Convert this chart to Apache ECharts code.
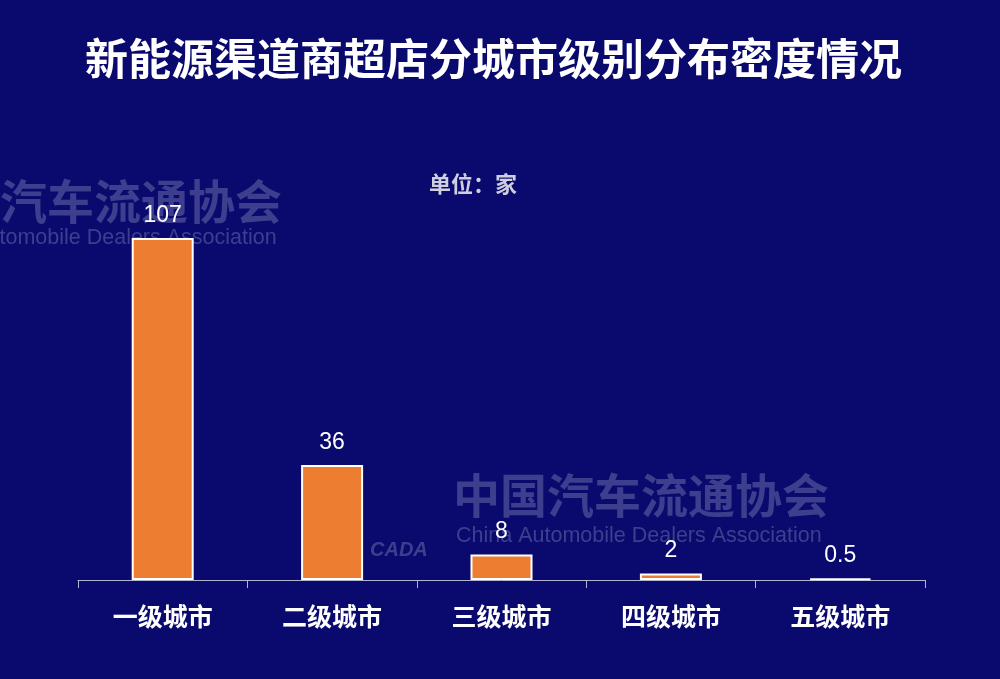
<!DOCTYPE html>
<html>
<head>
<meta charset="utf-8">
<script src="https://cdn.jsdelivr.net/npm/echarts@6/dist/echarts.min.js"></script>
<style>
html,body{margin:0;padding:0;background:#0a0a6e;}
#c{width:1000px;height:679px;}
</style>
</head>
<body>
<div id="c"></div>
<script>
var categories = ['一级城市', '二级城市', '三级城市', '四级城市', '五级城市'];
var values = [107, 36, 8, 2, 0.5];
var titleText = '新能源渠道商超店分城市级别分布密度情况';
var unitText = '单位：家';
var wmCn = '中国汽车流通协会';
var wmEn = 'China Automobile Dealers Association';

var chart = echarts.init(document.getElementById('c'));
var wmColor = '#3d3f8e';
chart.setOption({
  backgroundColor: '#0a0a6e',
  title: [{
    text: titleText,
    left: 80,
    top: 32,
    padding: 5,
    textStyle: {color: '#ffffff', fontSize: 43, fontWeight: 'bold', fontFamily: 'Noto Sans CJK SC'}
  }, {
    text: unitText,
    left: 424,
    top: 168,
    textStyle: {color: '#cfcfe0', fontSize: 22, fontWeight: 'bold', fontFamily: 'Noto Sans CJK SC'}
  }],
  graphic: [
    {type: 'text', z: 0, left: 453, top: 472, style: {text: wmCn, fill: wmColor, font: 'bold 47px "Noto Sans CJK SC"'}},
    {type: 'text', z: 0, left: 456, top: 525, style: {text: wmEn, fill: wmColor, font: '21.5px "Liberation Sans", Arial'}},
    {type: 'text', z: 0, left: 370, top: 540, style: {text: 'CADA', fill: wmColor, font: 'italic bold 20px "Liberation Sans", Arial'}},
    {type: 'text', z: 0, left: -94, top: 178, style: {text: wmCn, fill: wmColor, font: 'bold 47px "Noto Sans CJK SC"'}},
    {type: 'text', z: 0, left: -89, top: 227, style: {text: wmEn, fill: wmColor, font: '21.5px "Liberation Sans", Arial'}}
  ],
  grid: {left: 78, right: 75, top: 196.5, bottom: 99},
  xAxis: {
    type: 'category',
    data: categories,
    axisLine: {lineStyle: {color: '#b4b4d4', width: 1}},
    axisTick: {show: true, length: 8, lineStyle: {color: '#b4b4d4'}},
    axisLabel: {color: '#ffffff', fontSize: 25, fontWeight: 'bold', fontFamily: 'Noto Sans CJK SC', margin: 24}
  },
  yAxis: {
    type: 'value',
    min: 0,
    max: 120,
    show: false,
    splitLine: {show: false}
  },
  series: [{
    type: 'bar',
    data: values,
    barWidth: 62,
    z: 2,
    itemStyle: {color: '#ed7d31', borderColor: '#ffffff', borderWidth: 2},
    label: {
      show: true,
      position: 'top',
      distance: 11,
      color: '#ffffff',
      fontSize: 23,
      fontFamily: 'Liberation Sans, Arial'
    }
  }]
});
</script>
</body>
</html>
